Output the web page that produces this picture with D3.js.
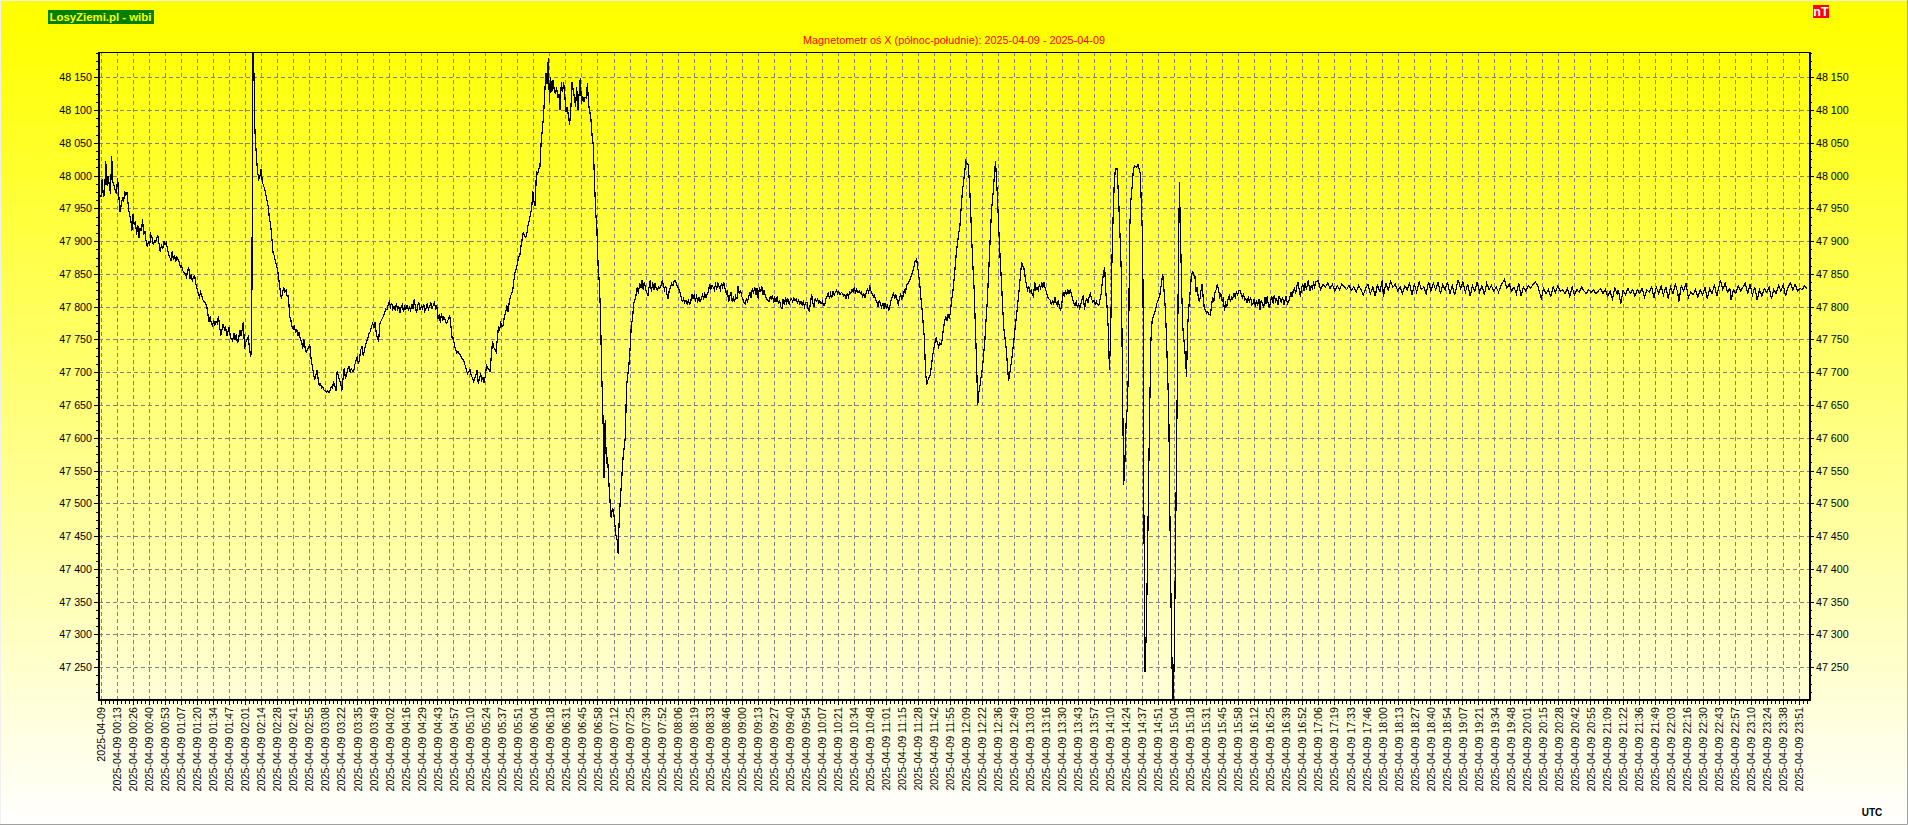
<!DOCTYPE html>
<html lang="pl">
<head>
  <meta charset="UTF-8">
  <title>LosyZiemi.pl - wibi</title>
  <script src='https://d3js.org/d3.v7.min.js'></script>
  <style>
    html, body {
      margin: 0;
      overflow: hidden;
      background: #fff;
    }
    svg { display: block; }
    text { font-family: "Liberation Sans", Arial, sans-serif; }
    .axis text { font-size: 10.7px; fill: #000; }
    .axis path { display: none; }
    .axis line { stroke: #000; shape-rendering: crispEdges; }
    .grid line {
      stroke: #80808a;
      stroke-dasharray: 4,3;
      shape-rendering: crispEdges;
    }
  </style>
</head>

<body>
  <div id='chart'></div>

  <script type='text/javascript'>
    const chartTitle = 'Magnetometr oś X (północ-południe): 2025-04-09 - 2025-04-09'
    const dateLabel = '2025-04-09'

    const timeLabels = ['00:13', '00:26', '00:40', '00:53', '01:07', '01:20', '01:34', '01:47', '02:01', '02:14', '02:28', '02:41', '02:55', '03:08', '03:22', '03:35', '03:49', '04:02', '04:16', '04:29', '04:43', '04:57', '05:10', '05:24', '05:37', '05:51', '06:04', '06:18', '06:31', '06:45', '06:58', '07:12', '07:25', '07:39', '07:52', '08:06', '08:19', '08:33', '08:46', '09:00', '09:13', '09:27', '09:40', '09:54', '10:07', '10:21', '10:34', '10:48', '11:01', '11:15', '11:28', '11:42', '11:55', '12:09', '12:22', '12:36', '12:49', '13:03', '13:16', '13:30', '13:43', '13:57', '14:10', '14:24', '14:37', '14:51', '15:04', '15:18', '15:31', '15:45', '15:58', '16:12', '16:25', '16:39', '16:52', '17:06', '17:19', '17:33', '17:46', '18:00', '18:13', '18:27', '18:40', '18:54', '19:07', '19:21', '19:34', '19:48', '20:01', '20:15', '20:28', '20:42', '20:55', '21:09', '21:22', '21:36', '21:49', '22:03', '22:16', '22:30', '22:43', '22:57', '23:10', '23:24', '23:38', '23:51']

    const nanoTeslaTicks = [48150, 48100, 48050, 48000, 47950, 47900, 47850, 47800, 47750, 47700, 47650, 47600, 47550, 47500, 47450, 47400, 47350, 47300, 47250]

    // [minutes since midnight, nT]
    const nightDrift = [[0,47968],[1,47995],[2,47968],[3,47970],[4,48022],[5,47985],[6,48000],[7,47985],[8,47972],[9,48030],[10,47990],[11,47985],[12,47978],[13,47972],[14,47997],[15,47970],[16,47944],[17,47955],[18,47965],[19,47960],[20,47976],[21,47970],[22,47975],[23,47953],[24,47940],[25,47935],[26,47915],[27,47941],[28,47925],[29,47930],[30,47910],[31,47925],[32,47905],[33,47920],[34,47915],[35,47933],[36,47910],[37,47915],[38,47900],[39,47891],[40,47900],[41,47893],[42,47910],[43,47906],[44,47895],[45,47900],[46,47898],[47,47905],[48,47908],[49,47895],[50,47883],[51,47895],[52,47888],[53,47900],[54,47895],[55,47898],[56,47888],[57,47880],[58,47875],[59,47870],[60,47885],[61,47872],[62,47878],[63,47868],[64,47876],[65,47872],[66,47868],[67,47860],[68,47862],[69,47855],[70,47852],[71,47850],[72,47845],[73,47855],[74,47860],[75,47842],[76,47848],[77,47840],[78,47845],[79,47847],[80,47835],[81,47828],[82,47820],[83,47815],[84,47822],[85,47817],[86,47810],[87,47808],[88,47805],[89,47802],[90,47790],[91,47777],[92,47785],[93,47775],[94,47771],[95,47780],[96,47772],[97,47778],[98,47775],[99,47786],[100,47770],[101,47756],[102,47765],[103,47774],[104,47765],[105,47770],[106,47755],[107,47762],[108,47769],[109,47755],[110,47750],[111,47748],[112,47760],[113,47750],[114,47758],[115,47745],[116,47750],[117,47765],[118,47755],[119,47765],[120,47777],[121,47736],[122,47745],[123,47750],[124,47754],[125,47740],[126,47724],[127,47731],[128,48188],[129,48153],[129.5,48080],[130,48060],[131,48029],[132,48005],[133,47995],[134,48000],[135,48010],[136,47990],[137,47985],[138,47979],[139,47970],[140,47962],[141,47953],[142,47933],[143,47925],[144,47905],[145,47883],[146,47878],[147,47870],[148,47862],[149,47855],[150,47840],[151,47825],[152,47812],[153,47820],[154,47830],[155,47822],[156,47825],[157,47815],[158,47817],[159,47786],[160,47780],[161,47770],[162,47766],[163,47772],[164,47760],[165,47765],[166,47756],[167,47762],[168,47750],[169,47748],[170,47736],[171,47750],[172,47738],[173,47731],[174,47735],[175,47738],[176,47742],[177,47722],[178,47710],[179,47700],[180,47688],[181,47695],[182,47703],[183,47690],[184,47680],[185,47682],[186,47676],[187,47678],[188,47673],[189,47672],[190,47670],[191,47672],[192,47669],[193,47672],[194,47678],[195,47676],[196,47684],[197,47680],[198,47671],[199,47701],[200,47695],[201,47688],[202,47684],[203,47672],[204,47690],[205,47707],[206,47690],[207,47696],[208,47704],[209,47710],[210,47700],[211,47705],[212,47702],[213,47701],[214,47712],[215,47718],[216,47724],[217,47712],[218,47722],[219,47735],[220,47739],[221,47725],[222,47732],[223,47742],[224,47747],[225,47752],[226,47760],[227,47762],[228,47770],[229,47775],[230,47768],[231,47777],[232,47760],[233,47752],[234,47747],[235,47774],[236,47778],[237,47782],[238,47785],[239,47790],[240,47797],[241,47795],[242,47802],[243,47808],[244,47800],[245,47806],[246,47796],[247,47800],[248,47794],[249,47805],[250,47796],[251,47800],[252,47790],[253,47800],[254,47803],[255,47792],[256,47800],[257,47796],[258,47802],[259,47795],[260,47799],[261,47794],[262,47804],[263,47796],[264,47812],[265,47800],[266,47790],[267,47803],[268,47806],[269,47795],[270,47801],[271,47797],[272,47804],[273,47793],[274,47798],[275,47805],[276,47796],[277,47800],[278,47807],[279,47796],[280,47802],[281,47806],[282,47798],[283,47803],[284,47782],[285,47788],[286,47776],[287,47790],[288,47778],[289,47785],[290,47780],[291,47775],[292,47777],[293,47782],[294,47786],[295,47770],[296,47751],[297,47752],[298,47740],[299,47734],[300,47729],[301,47732],[302,47728],[303,47726],[304,47722],[305,47720],[306,47716],[307,47710],[308,47703],[309,47698],[310,47700],[311,47704],[312,47695],[313,47692],[314,47686],[315,47690],[316,47696],[317,47703],[318,47683],[319,47690],[320,47698],[321,47688],[322,47692],[323,47683],[324,47696],[325,47710],[326,47706],[327,47704],[328,47700],[329,47725],[330,47747],[331,47738],[332,47735],[333,47731],[334,47750],[335,47769],[336,47765],[337,47775],[338,47770],[339,47772],[340,47785],[341,47790],[342,47802],[343,47792],[344,47805],[345,47815],[346,47820],[347,47824],[348,47840],[349,47853],[350,47858],[351,47866],[352,47876],[353,47878],[354,47892],[355,47903],[356,47914],[357,47908],[358,47906],[359,47912],[360,47925],[361,47931],[362,47942],[363,47949],[364,47976],[365,47960],[366,47953],[367,48005],[368,48002],[369,48010],[370,48014],[371,48050],[372,48070],[373,48090],[374,48126]]

    const morningSwing = [[375,48156],[376,48140],[377,48179],[378,48111],[379,48150],[380,48128],[381,48146],[382,48132],[383,48125],[384,48135],[385,48118],[386,48125],[387,48100],[388,48143],[389,48128],[390,48142],[391,48120],[392,48097],[393,48105],[394,48090],[395,48078],[396,48100],[397,48143],[398,48130],[399,48120],[400,48105],[401,48135],[402,48100],[403,48125],[404,48149],[405,48110],[406,48122],[407,48112],[408,48120],[409,48118],[410,48141],[411,48108],[412,48098],[413,48085],[414,48060],[415,48045],[416,47990],[417,47944],[418,47918],[419,47862],[420,47838],[421,47792],[422,47701],[423,47640],[423.5,47600],[424,47539],[424.5,47600],[425,47627],[426,47560],[427,47570],[428,47534],[429,47505],[430,47478],[431,47492],[432,47489],[433,47470],[434,47452],[435,47445],[436,47422],[436.5,47460],[437,47483],[438,47513],[439,47540],[440,47569],[441,47585],[442,47602],[443,47680],[444,47695],[445,47711],[446,47737],[447,47772],[448,47780],[449,47805],[450,47810],[451,47818],[452,47830],[453,47820],[454,47836],[455,47828],[456,47840],[457,47826],[458,47838],[459,47827],[460,47822],[461,47817],[462,47830],[463,47840],[464,47822],[465,47838],[466,47825],[467,47836],[468,47828],[469,47826],[470,47830],[471,47828],[472,47832],[473,47840],[474,47834],[475,47826],[476,47832],[477,47820],[478,47812],[479,47825],[480,47830],[481,47835],[482,47832],[483,47838],[484,47840],[485,47836],[486,47830],[487,47827],[488,47822],[489,47815],[490,47808],[491,47812],[492,47806],[493,47810],[494,47804],[495,47810],[496,47804],[497,47806],[498,47820],[499,47812],[500,47818],[501,47810],[502,47816],[503,47808],[504,47814],[505,47808],[506,47812],[507,47818],[508,47812],[509,47820],[510,47814],[511,47820],[512,47822],[513,47835],[514,47826],[515,47832],[516,47830],[517,47826],[518,47834],[519,47828],[520,47836],[521,47830],[522,47826],[523,47836],[524,47830],[525,47837],[526,47828],[527,47820],[528,47826],[529,47807],[530,47816],[531,47822],[532,47808],[533,47814],[534,47807],[535,47816],[536,47812],[537,47832],[538,47820],[539,47826],[540,47816],[541,47812],[542,47806],[543,47804],[544,47812],[545,47808],[546,47816],[547,47822],[548,47814],[549,47828],[550,47820],[551,47830],[552,47818],[553,47828],[554,47812],[555,47830],[556,47822],[557,47832],[558,47818],[559,47826],[560,47816],[561,47812],[562,47810],[563,47808],[564,47815],[565,47812],[566,47818],[567,47806],[568,47814],[569,47808],[570,47816],[571,47804],[572,47810],[573,47800],[574,47797],[575,47812],[576,47802],[577,47814],[578,47806],[579,47812],[580,47804],[581,47810],[582,47812],[583,47808],[584,47814],[585,47810],[586,47812],[587,47806],[588,47810],[589,47804],[590,47808],[591,47802],[592,47808],[593,47800],[594,47806],[595,47807],[596,47797],[597,47794],[598,47805],[599,47820],[600,47806],[601,47800],[602,47812],[603,47808],[604,47811],[605,47806],[606,47809],[607,47805],[608,47808],[609,47802],[610,47802],[611,47812],[612,47816],[613,47822],[614,47812],[615,47820],[616,47814],[617,47824],[618,47818],[619,47822],[620,47825],[621,47820],[622,47823],[623,47818],[624,47822],[625,47820],[626,47816],[627,47818],[628,47812],[629,47820],[630,47815],[631,47822],[632,47820],[633,47826],[634,47822],[635,47830],[636,47820],[637,47826],[638,47822],[639,47824],[640,47820],[641,47822],[642,47816],[643,47820],[644,47814],[645,47822],[646,47826],[647,47822],[648,47830],[649,47824],[650,47820],[651,47815],[652,47818],[653,47810],[654,47807],[655,47800],[656,47810],[657,47804],[658,47799],[659,47806],[660,47796],[661,47806],[662,47798],[663,47802],[664,47794],[665,47802],[666,47810],[667,47815],[668,47822],[669,47812],[670,47818],[671,47810],[672,47804],[673,47812],[674,47820],[675,47812],[676,47816],[677,47825],[678,47820],[679,47833],[680,47835],[681,47838],[682,47842],[683,47848],[684,47852],[685,47858],[686,47868],[687.5,47873],[689,47852],[690,47838],[691,47815],[692,47797],[693,47775],[694,47752],[695,47701],[696,47681],[697,47688],[698,47692],[699,47696],[700,47710],[701,47725],[702,47736],[703,47745],[704,47752],[705,47745],[706,47739],[707,47745],[708,47742],[709,47749],[710,47765],[711,47777],[712,47785],[713,47778],[714,47788],[715,47782],[716,47792],[717,47810],[718,47822],[719,47840],[720,47862],[721,47883],[722,47898],[723,47912],[724,47924],[725,47950],[726,47974],[727,47990],[728,48005],[729,48022],[730,48018],[731,48017],[732,47990],[733,47949],[734,47900],[735,47860],[736,47825],[737,47770],[738,47715],[739,47650],[740,47670],[741,47681],[742,47695],[743,47706],[744,47728],[745,47747],[746,47780],[747,47807],[748,47845],[749,47883],[750,47925],[751,47955],[752,47974],[753,48000],[754,48022],[755,47990],[756,47950],[757,47908],[758,47870],[759,47838],[760,47800],[761,47767],[762,47752],[763,47736],[764,47712],[765,47686],[766,47698],[767,47711],[768,47725],[769,47741],[770,47758],[771,47775],[772,47792],[773,47810],[774,47827],[775,47848],[776,47868],[777,47862],[778,47858],[779,47845],[780,47833],[781,47826],[782,47832],[783,47822],[784,47826],[785,47818],[786,47815],[787,47838],[788,47826],[789,47830],[790,47825],[791,47834],[792,47828],[793,47836],[794,47830],[795,47838],[796,47826],[797,47822],[798,47815],[799,47812],[800,47810],[801,47804],[802,47808],[803,47804],[804,47815],[805,47806],[806,47802],[807,47810],[808,47798],[809,47795],[810,47806],[811,47822],[812,47815],[813,47825],[814,47818],[815,47826],[816,47820],[817,47827],[818,47818],[819,47812],[820,47805],[821,47802],[822,47808],[823,47800],[824,47804],[825,47797],[826,47804],[827,47812],[828,47817],[829,47795],[830,47808],[831,47812],[832,47806],[833,47816],[834,47820],[835,47812],[836,47807],[837,47810],[838,47804],[839,47808],[840,47803],[841,47802],[842,47810],[843,47820],[844,47838],[845,47850],[846,47860],[847,47822],[848,47800],[849,47767],[850,47703],[851,47754],[852,47860],[853,47930],[854,47985],[855,48010],[856.5,48010],[858,47954],[859,47905],[860,47853],[861,47691],[862,47528],[863,47560],[864,47620],[865,47645],[866,47701],[867,47913],[868,47960],[869,47980],[870,48005],[871,48015],[872,48014],[873,48012],[874,48017],[875,48010],[876,48004],[877,47950],[878,47903],[878.5,47772],[879,47500],[880,47242],[881,47300],[882,47400],[883,47530],[884,47645],[885,47750],[886,47779],[887,47785],[888,47790],[889,47797],[890,47805],[891,47810],[892.5,47817],[894,47838],[895,47850],[896,47825],[897,47800],[898,47760],[899,47700],[900,47645],[901,47480],[902,47340],[903,47230],[903.6,47202],[904.5,47250],[905,47320],[906,47480],[907,47645],[908,47837],[909,47990],[910,47903],[911,47820],[912,47765],[913,47745],[914,47725],[915,47693],[916,47772],[917,47800],[918,47822],[919,47845],[920,47855],[921,47848],[922,47848],[923,47822],[924,47830],[925,47812],[926,47807],[927,47822],[928,47835],[929,47815],[930,47797],[931,47795],[932,47790],[933,47792],[934,47788],[935,47787],[936,47800],[937,47815],[938,47808],[939,47822],[940,47826],[941,47835],[942,47825],[943,47815],[944,47820],[945,47808],[946,47812],[947,47794],[948,47805],[949,47800],[950,47812],[951,47817],[952,47808],[953,47815],[954,47812],[955,47820],[956,47814],[957,47822],[958,47818],[959,47824],[960,47825],[961,47820],[962,47814],[963,47820],[964,47810],[965,47812],[966,47806],[967,47814],[968,47808],[969,47815],[970,47803],[971,47805],[972,47812],[973,47800],[974,47810],[975,47802],[976,47812],[977,47795],[978,47810],[979,47804],[980,47798],[981,47815],[982,47805],[983,47816],[984,47802],[985,47799],[986,47810],[987,47815],[988,47805],[989,47818],[990,47808],[991,47812],[992,47803],[993,47816],[994,47812],[995,47806],[996,47815],[997,47802],[998,47810],[999,47816],[1000,47804],[1001,47807],[1002,47813],[1003,47822],[1004,47815],[1005,47825],[1006,47828],[1007,47820],[1008,47832],[1009,47837],[1010,47826],[1011,47815],[1012,47830],[1013,47834],[1014,47824],[1015,47836],[1016,47826],[1017.5,47840],[1019,47824],[1020,47832],[1021,47828],[1022,47836],[1023,47830],[1024,47838],[1026,47840]]

    const quietEvening = [[1028,47826],[1030,47834],[1032,47830],[1034,47836],[1036,47828],[1038,47834],[1040,47824],[1042,47832],[1044,47826],[1046,47835],[1048,47830],[1050,47826],[1052,47833],[1054,47825],[1056,47830],[1058,47822],[1060,47832],[1062,47826],[1064,47818],[1066,47828],[1068,47834],[1070,47820],[1072,47830],[1074,47816],[1076,47834],[1078,47822],[1080,47840],[1081,47815],[1083,47836],[1085,47825],[1087,47838],[1089,47830],[1091,47834],[1093,47824],[1095,47830],[1097,47820],[1099,47832],[1101,47826],[1103,47836],[1105,47818],[1107,47834],[1109,47822],[1111,47838],[1113,47826],[1115,47830],[1117,47820],[1119,47838],[1121,47824],[1123,47836],[1125,47826],[1127,47838],[1129,47820],[1131,47834],[1133,47826],[1135,47838],[1137,47820],[1139,47832],[1141,47818],[1144,47841],[1146,47828],[1148,47838],[1150,47822],[1152,47834],[1154,47816],[1156,47832],[1158,47824],[1160,47838],[1162,47822],[1164,47832],[1166,47818],[1168,47836],[1170,47826],[1172,47832],[1174,47824],[1176,47830],[1178,47822],[1180,47832],[1183,47842],[1185,47828],[1187,47834],[1189,47824],[1191,47830],[1193,47820],[1195,47836],[1197,47816],[1199,47830],[1201,47824],[1203,47832],[1205,47828],[1207,47834],[1209,47838],[1211,47832],[1212,47825],[1214,47813],[1216,47828],[1218,47820],[1220,47826],[1222,47816],[1224,47830],[1226,47822],[1228,47832],[1230,47824],[1232,47826],[1234,47820],[1236,47828],[1238,47816],[1240,47830],[1242,47818],[1244,47826],[1246,47822],[1248,47830],[1250,47824],[1252,47820],[1254,47826],[1256,47822],[1258,47826],[1260,47820],[1262,47824],[1264,47828],[1266,47820],[1268,47826],[1270,47816],[1272,47824],[1274,47812],[1276,47828],[1278,47820],[1279,47826],[1281,47805],[1283,47825],[1285,47818],[1287,47828],[1289,47820],[1291,47826],[1293,47816],[1295,47826],[1297,47820],[1299,47828],[1301,47814],[1303,47826],[1305,47822],[1307,47830],[1309,47814],[1311,47830],[1313,47820],[1315,47832],[1317,47818],[1319,47830],[1321,47812],[1323,47830],[1325,47820],[1327,47834],[1329,47822],[1330,47808],[1332,47832],[1334,47824],[1336,47836],[1338,47814],[1340,47822],[1342,47818],[1344,47826],[1346,47814],[1348,47826],[1350,47818],[1352,47830],[1354,47812],[1356,47828],[1358,47820],[1360,47834],[1362,47816],[1365,47841],[1367,47826],[1369,47836],[1371,47822],[1373,47828],[1374,47810],[1376,47826],[1378,47820],[1380,47832],[1382,47824],[1384,47830],[1386,47836],[1388,47820],[1390,47834],[1392,47818],[1394,47830],[1396,47810],[1398,47826],[1400,47816],[1402,47828],[1404,47822],[1406,47830],[1408,47812],[1410,47826],[1412,47820],[1414,47832],[1416,47824],[1418,47834],[1420,47816],[1422,47830],[1424,47836],[1426,47826],[1428,47834],[1430,47824],[1432,47828],[1434,47826],[1436,47832],[1438,47828]]

    const width = 1908
    const height = 825
    const plot = { left: 99, right: 1809, top: 52, bottom: 700 }

    const xLabels = [dateLabel].concat(timeLabels.map(t => `${dateLabel} ${t}`))
    const readings = d3.merge([nightDrift, morningSwing, quietEvening])

    const xTicks = d3.scalePoint().domain(xLabels).range([101, 1798.7])
    const x = d3.scaleLinear().domain([0, 1431]).range([101, 1798.7])
    const y = d3.scaleLinear().domain([47200, 48188.6]).range([plot.bottom, plot.top])

    const svg = d3.select('#chart').append('svg')
      .attr('width', width)
      .attr('height', height)

    const grad = svg.append('defs').append('linearGradient')
      .attr('id', 'bg')
      .attr('x1', '0%').attr('x2', '0%')
      .attr('y1', '0%').attr('y2', '100%')
    grad.append('stop').attr('offset', '3%').attr('stop-color', '#ffff00')
    grad.append('stop').attr('offset', '100%').attr('stop-color', '#ffffff')

    svg.append('rect')
      .attr('width', width).attr('height', height)
      .attr('fill', 'url(#bg)')

    // window edge: light on top and left, grey on bottom and right
    svg.append('path').attr('d', `M0.5,${height}V0.5H${width}`)
      .attr('fill', 'none').attr('stroke', '#f0f0f0')
    svg.append('path').attr('d', `M${width - 0.5},0V${height - 0.5}H0`)
      .attr('fill', 'none').attr('stroke', '#a0a0a0')

    // grid
    svg.append('g').attr('class', 'grid')
      .selectAll('line').data(xLabels).join('line')
      .attr('x1', d => Math.round(xTicks(d)) + 0.5)
      .attr('x2', d => Math.round(xTicks(d)) + 0.5)
      .attr('y1', plot.top)
      .attr('y2', plot.bottom)
    svg.append('g').attr('class', 'grid')
      .selectAll('line').data(nanoTeslaTicks).join('line')
      .attr('x1', plot.left)
      .attr('x2', plot.right)
      .attr('y1', d => Math.round(y(d)) + 0.5)
      .attr('y2', d => Math.round(y(d)) + 0.5)

    // minor ticks, four per labelled step
    const yMinor = d3.range(47212.5, 48188, 12.5)
    const xMinor = d3.range(0, 1440, 13.5 / 4)
    const nT = d3.formatLocale({ thousands: ' ', grouping: [3], decimal: ',', currency: ['', ''] }).format(',d')

    const gx = svg.append('g').attr('class', 'axis')
      .attr('transform', `translate(0,${plot.bottom})`)
    gx.call(d3.axisBottom(x).tickValues(xMinor).tickSize(4).tickFormat(''))
    const gxMajor = svg.append('g').attr('class', 'axis')
      .attr('transform', `translate(0,${plot.bottom})`)
      .call(d3.axisBottom(xTicks).tickSize(5).tickPadding(0))
    gxMajor.selectAll('text')
      .attr('transform', 'rotate(-90)')
      .attr('text-anchor', 'end')
      .attr('x', -7)
      .attr('y', 0)
      .attr('dy', '0.35em')

    for (const side of ['left', 'right']) {
      const xPos = side === 'left' ? plot.left : plot.right
      const make = side === 'left' ? d3.axisLeft : d3.axisRight
      svg.append('g').attr('class', 'axis')
        .attr('transform', `translate(${xPos},0)`)
        .call(make(y).tickValues(yMinor).tickSize(3).tickFormat(''))
      svg.append('g').attr('class', 'axis')
        .attr('transform', `translate(${xPos},0)`)
        .call(make(y).tickValues(nanoTeslaTicks).tickSize(5).tickPadding(2).tickFormat(nT))
    }

    // frame
    const frame = svg.append('g').attr('stroke', '#000').attr('shape-rendering', 'crispEdges')
    frame.append('line').attr('x1', plot.left).attr('x2', plot.right).attr('y1', plot.top + 0.5).attr('y2', plot.top + 0.5)
    frame.append('line').attr('x1', plot.left - 1).attr('x2', plot.right + 2).attr('y1', plot.bottom).attr('y2', plot.bottom).attr('stroke-width', 2)
    frame.append('line').attr('x1', plot.left).attr('x2', plot.left).attr('y1', plot.top).attr('y2', plot.bottom).attr('stroke-width', 2)
    frame.append('line').attr('x1', plot.right + 0.5).attr('x2', plot.right + 0.5).attr('y1', plot.top).attr('y2', plot.bottom).attr('stroke-width', 2)

    // measured line
    svg.append('path')
      .datum(readings)
      .attr('fill', 'none')
      .attr('stroke', '#000')
      .attr('stroke-width', 1.2)
      .attr('stroke-linejoin', 'miter')
      .attr('shape-rendering', 'crispEdges')
      .attr('d', d3.line().x(d => x(d[0])).y(d => y(d[1])))

    // title and badges
    svg.append('text')
      .attr('x', 954).attr('y', 44)
      .attr('text-anchor', 'middle')
      .attr('font-size', 10.85)
      .attr('fill', '#ff0000')
      .text(chartTitle)

    svg.append('rect').attr('x', 48).attr('y', 10).attr('width', 106).attr('height', 14).attr('fill', '#008000')
    svg.append('text')
      .attr('x', 49.5).attr('y', 21)
      .attr('font-size', 11.4).attr('font-weight', 'bold')
      .attr('fill', '#ffff00')
      .text('LosyZiemi.pl - wibi')

    svg.append('rect').attr('x', 1813).attr('y', 5).attr('width', 16).attr('height', 13).attr('fill', '#ff0000')
    svg.append('text')
      .attr('x', 1821).attr('y', 16)
      .attr('text-anchor', 'middle')
      .attr('font-size', 12.5).attr('font-weight', 'bold')
      .attr('fill', '#ffffff')
      .text('nT')

    svg.append('text')
      .attr('x', 1872).attr('y', 816)
      .attr('text-anchor', 'middle')
      .attr('font-size', 10).attr('font-weight', 'bold')
      .attr('fill', '#000')
      .text('UTC')
  </script>
</body>

</html>
